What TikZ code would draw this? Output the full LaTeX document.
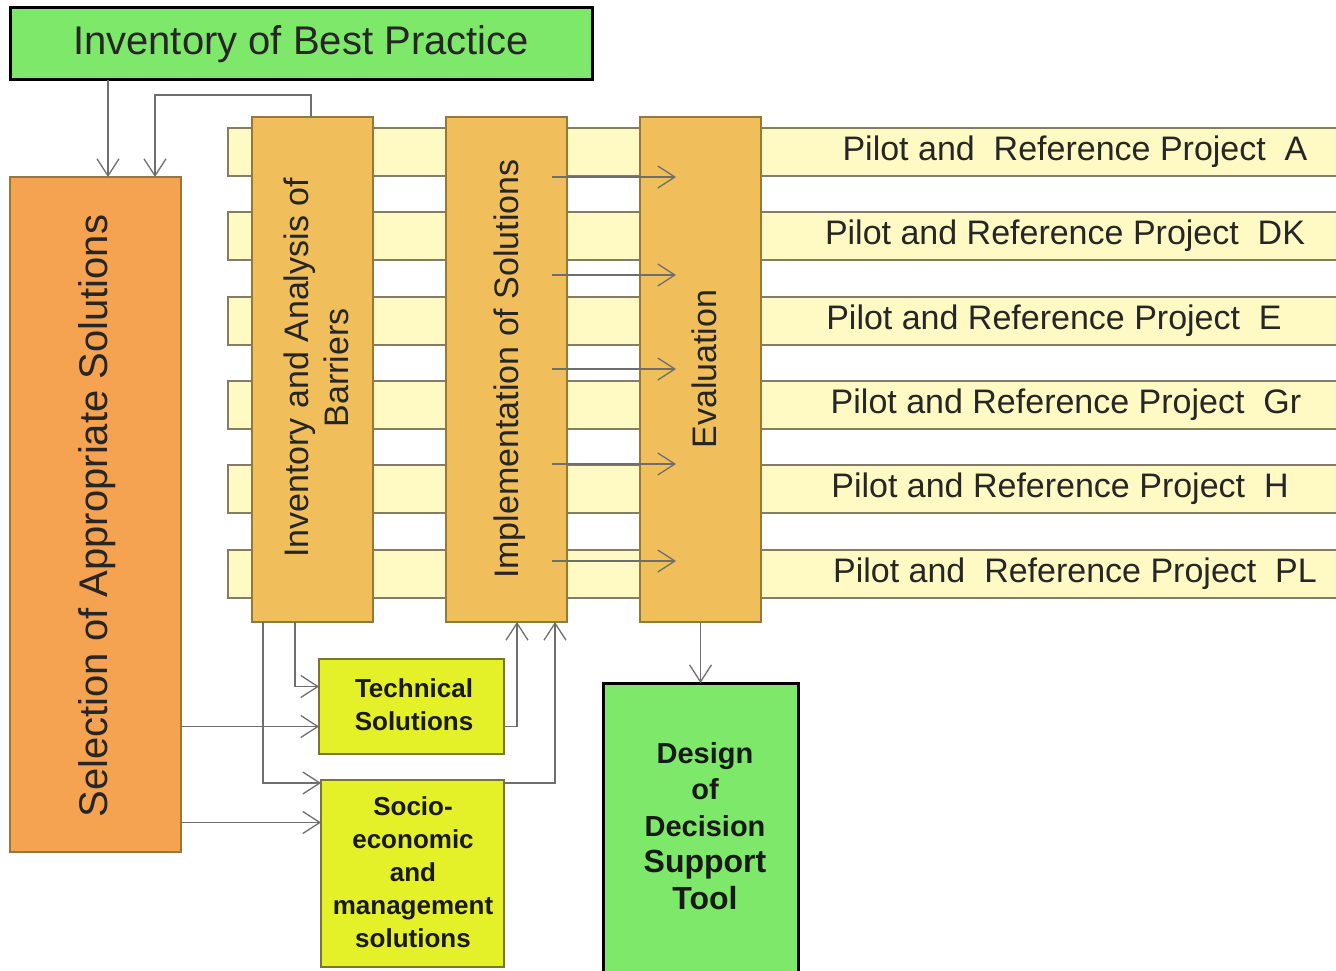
\documentclass[tikz,border=0pt]{standalone}
\usepackage{fontspec}
\setmainfont{Liberation Sans}
\usetikzlibrary{arrows.meta}
\definecolor{gbox}{RGB}{125,232,105}
\definecolor{obox}{RGB}{245,163,80}
\definecolor{gold}{RGB}{240,190,90}
\definecolor{goldline}{RGB}{150,120,60}
\definecolor{band}{RGB}{255,250,195}
\definecolor{bandline}{RGB}{130,125,100}
\definecolor{ybox}{RGB}{228,240,40}
\definecolor{yline}{RGB}{120,120,40}
\definecolor{lgray}{RGB}{110,110,110}
\begin{document}
\begin{tikzpicture}[x=1pt,y=-1pt,
  every node/.style={inner sep=0pt, outer sep=0pt},
  greenbox/.style={draw=black, line width=3pt, fill=gbox, anchor=north west},
  selbox/.style={draw=goldline, line width=1.2pt, fill=obox, anchor=north west},
  goldbox/.style={draw=goldline, line width=1.2pt, fill=gold, anchor=north west, minimum width=121pt, minimum height=505pt},
  bandbox/.style={draw=bandline, line width=1.5pt, fill=band, anchor=north west, minimum width=1200pt, minimum height=48pt},
  ylbox/.style={draw=yline, line width=1.5pt, fill=ybox, anchor=north west},
  bandtxt/.style={font=\fontsize{34}{40}\selectfont, text=black!85},
  vtxt/.style={font=\fontsize{34}{40}\selectfont, rotate=90, align=center, text=black!85},
  btxt/.style={font=\bfseries\fontsize{26}{33}\selectfont, align=center, text=black!90},
  conn/.style={draw=lgray, line width=1.3pt, -{Straight Barb[length=17pt,width=22pt,line width=1.3pt]}}
]
\useasboundingbox (0,0) rectangle (1336,971);

% top box
\node[greenbox, minimum width=582pt, minimum height=72pt] (top) at (10,8) {};
\node[font=\fontsize{40}{48}\selectfont, text=black!85] (toptxt) at (top.center) {Inventory of Best Practice};

% selection box
\node[selbox, minimum width=171pt, minimum height=675pt] (sel) at (10,177) {};
\node[vtxt, font=\fontsize{40}{48}\selectfont] (seltxt) at (97,516) {Selection of Appropriate Solutions};

% bands
\node[bandbox] (b1) at (228,128) {};
\node[bandbox] (b2) at (228,212) {};
\node[bandbox] (b3) at (228,297) {};
\node[bandbox] (b4) at (228,381) {};
\node[bandbox] (b5) at (228,465) {};
\node[bandbox] (b6) at (228,550) {};
\node[bandtxt] (l1) at (1075,152) {Pilot and\ \ Reference Project\ \ A};
\node[bandtxt] (l2) at (1065,236) {Pilot and Reference Project\ \ DK};
\node[bandtxt] (l3) at (1054,321) {Pilot and Reference Project\ \ E};
\node[bandtxt] (l4) at (1066,405) {Pilot and Reference Project\ \ Gr};
\node[bandtxt] (l5) at (1060,489) {Pilot and Reference Project\ \ H};
\node[bandtxt] (l6) at (1075,574) {Pilot and\ \ Reference Project\ \ PL};

% vertical gold boxes
\node[goldbox] (bar) at (252,117) {};
\node[goldbox] (imp) at (446,117) {};
\node[goldbox] (eva) at (640,117) {};
\node[vtxt] (bartxt) at (316,368) {Inventory and Analysis of\\Barriers};
\node[vtxt] (imptxt) at (510,369) {Implementation of Solutions};
\node[vtxt] (evatxt) at (704,369) {Evaluation};

% solution boxes
\node[ylbox, minimum width=185pt, minimum height=95pt] (tech) at (319,659) {};
\node[btxt] (techtxt) at (414,705) {Technical\\Solutions};
\node[ylbox, minimum width=183pt, minimum height=187pt] (soc) at (321,780) {};
\node[btxt] (soctxt) at (413,872) {Socio-\\economic\\and\\management\\solutions};

% design box
\node[greenbox, minimum width=195pt, minimum height=300pt] (des) at (603,683) {};
\node[align=center, text=black!90, font=\bfseries\fontsize{29}{36.5}\selectfont] (destxt) at (705,826) {Design\\of\\Decision\\{\fontsize{32}{36.5}\selectfont Support}\\{\fontsize{32}{36.5}\selectfont Tool}};

% connectors
\draw[conn] ([xshift=98pt]top.south west) -- ([xshift=98pt]sel.north west);
\draw[conn] ([xshift=59pt]bar.north west) -- ++(0,-22) -| ([xshift=145pt]sel.north west);

\foreach \dy in {60,158,252,347,444}
  \draw[conn] ([xshift=106pt,yshift=-\dy pt]imp.north west) -- ([xshift=36pt,yshift=-\dy pt]eva.north west);

\coordinate (t1) at ([yshift=20pt]tech.west);
\coordinate (t2) at ([yshift=-20pt]tech.west);
\coordinate (s1) at ([yshift=-3pt]soc.north west);
\coordinate (s2) at ([yshift=51pt]soc.west);
\draw[conn] ([xshift=43pt]bar.south west) |- (t1);
\draw[conn] ([xshift=11pt]bar.south west) |- (s1);
\draw[conn] (sel.east |- t2) -- (t2);
\draw[conn] (sel.east |- s2) -- (s2);
\draw[conn] ([yshift=-20pt]tech.east) -| ([xshift=71pt]imp.south west);
\draw[conn] ([yshift=-3pt]soc.north east) -| ([xshift=109pt]imp.south west);
\draw[conn] (eva.south) -- (eva.south |- des.north);
\end{tikzpicture}
\end{document}
